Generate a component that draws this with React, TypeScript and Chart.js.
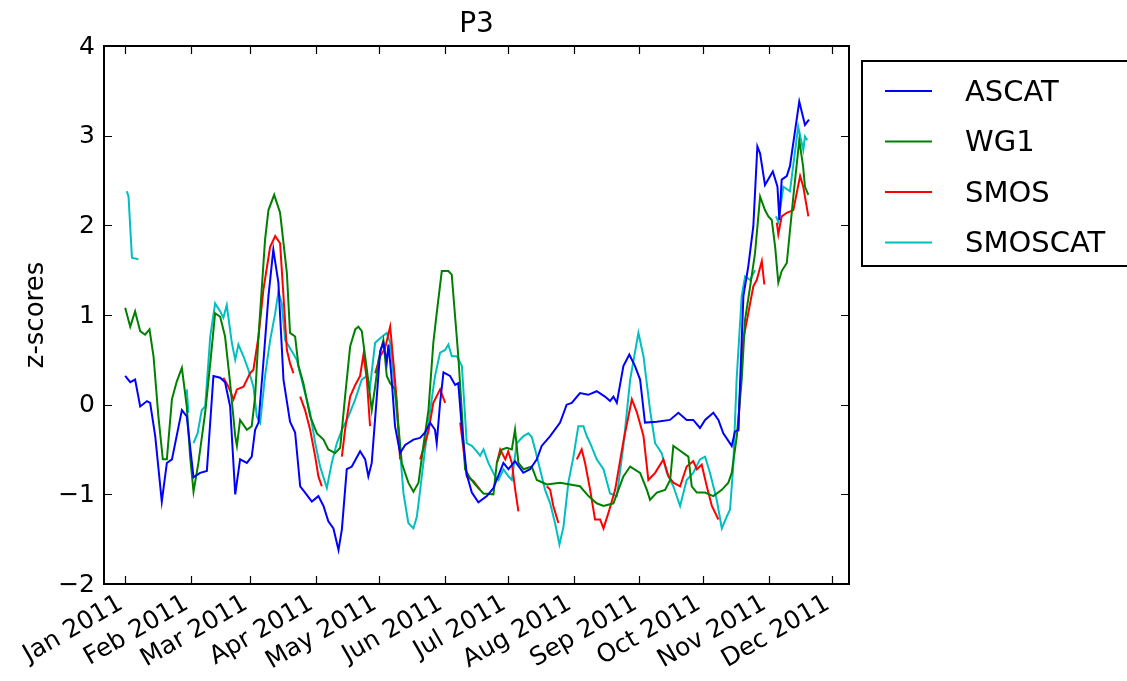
import React, { useEffect, useRef } from "react";
import { Chart, registerables } from "chart.js";

Chart.register(...registerables);

// x values are days since 1 Jan 2011
const monthTickDays = [0, 31, 59, 90, 120, 151, 181, 212, 243, 273, 304, 334];
const monthTickLabels = [
  "Jan 2011", "Feb 2011", "Mar 2011", "Apr 2011", "May 2011", "Jun 2011",
  "Jul 2011", "Aug 2011", "Sep 2011", "Oct 2011", "Nov 2011", "Dec 2011",
];
const yTickValues = [-2, -1, 0, 1, 2, 3, 4];
const yTickLabels = ["\u22122", "\u22121", "0", "1", "2", "3", "4"];

const seriesNames = ["ASCAT", "WG1", "SMOS", "SMOSCAT"];
const seriesColors = ["#0000ff", "#008000", "#ff0000", "#00bfbf"];

const ascat: [number, number | null][] = [
  [0, 0.32], [2.4, 0.25], [4.7, 0.28], [7.1, -0.02], [10.3, 0.04], [11.8, 0.02], [14.2, -0.35],
  [17.3, -1.08], [19.7, -0.65], [22.1, -0.61], [26.8, -0.06], [29.1, -0.13], [32.3, -0.81],
  [35.4, -0.76], [38.6, -0.74], [41.7, 0.32], [44.9, 0.3], [47.2, 0.25], [49.6, -0.02],
  [52, -1.0], [54.3, -0.61], [57.5, -0.65], [59.8, -0.58], [61.4, -0.28], [63, -0.2],
  [65.3, 0.47], [67.7, 1.21], [70, 1.73], [72.4, 1.36], [74.8, 0.28], [77.9, -0.19],
  [80.3, -0.31], [82.7, -0.91], [85, -0.98], [88.2, -1.08], [91.3, -1.02], [93.7, -1.13],
  [96, -1.3], [98.4, -1.38], [100.8, -1.62], [102.4, -1.39], [104.7, -0.72], [107.1, -0.69],
  [111, -0.52], [113.4, -0.61], [114.9, -0.8], [116.5, -0.65], [118.9, 0.09], [120.5, 0.6],
  [122, 0.69], [123.6, 0.47], [124.4, 0.67], [125.7, 0.35], [127.5, -0.24], [129.9, -0.54],
  [132.3, -0.45], [136.2, -0.39], [139.3, -0.37], [141.7, -0.31], [144.1, -0.2], [146.4, -0.28],
  [147.2, -0.43], [148.8, 0.02], [150.4, 0.36], [153.5, 0.32], [155.9, 0.22], [157.4, 0.24],
  [159, -0.24], [161.4, -0.78], [163.8, -0.98], [166.9, -1.09], [170.9, -1.02], [174, -0.93],
  [178.7, -0.65], [181.1, -0.72], [184.2, -0.63], [188.1, -0.76], [191.3, -0.72], [194.5, -0.61],
  [196.8, -0.46], [200.8, -0.35], [205.5, -0.2], [208.6, 0.0], [211, 0.02], [214.9, 0.13],
  [218.8, 0.11], [222.8, 0.15], [226.7, 0.09], [229.1, 0.04], [230.7, 0.09], [232.3, 0.02],
  [235.4, 0.43], [238.2, 0.56], [240.9, 0.43], [243.3, 0.28], [245.6, -0.2], [251.2, -0.19],
  [257.4, -0.17], [261.4, -0.09], [265.3, -0.17], [268.4, -0.17], [271.6, -0.26], [274, -0.17],
  [277.9, -0.09], [280.3, -0.17], [282.6, -0.32], [286.6, -0.46], [288.1, -0.3], [289.7, -0.28],
  [292.1, 1.21], [294.4, 1.54], [296.8, 1.99], [298.7, 2.88], [300, 2.8], [302.3, 2.45],
  [306, 2.6], [308.2, 2.43], [309.1, 2.06], [310.2, 2.51], [312.6, 2.55], [314.1, 2.66],
  [318.5, 3.38], [321.2, 3.12], [323.1, 3.18],
];

const wg1: [number, number | null][] = [
  [0, 1.08], [2.4, 0.87], [4.7, 1.04], [7.1, 0.82], [9.4, 0.78], [11.5, 0.84], [13.4, 0.54],
  [15.7, -0.13], [17.8, -0.61], [19.7, -0.61], [22.1, 0.06], [24.4, 0.26], [26.8, 0.41],
  [29.1, -0.02], [30.7, -0.58], [32.3, -0.97], [34.6, -0.65], [37.8, -0.09], [40.2, 0.46],
  [42.5, 1.02], [44.9, 0.98], [47.2, 0.76], [49.6, 0.24], [52, -0.35], [52.8, -0.46],
  [54.3, -0.17], [57.5, -0.28], [59.8, -0.24], [61.4, 0.09], [63, 0.76], [66.1, 1.84],
  [67.7, 2.17], [70.4, 2.34], [73.2, 2.14], [76.4, 1.47], [77.9, 0.8], [80.3, 0.76],
  [81.9, 0.43], [84.2, 0.24], [87.4, -0.13], [90.6, -0.32], [93.7, -0.39], [96, -0.5],
  [99.2, -0.54], [101.6, -0.48], [103.9, 0.09], [106.3, 0.65], [108.7, 0.84], [110.2, 0.87],
  [111.8, 0.82], [114.2, 0.39], [116.5, -0.06], [118.1, 0.2], [119.7, 0.5], [122, 0.72],
  [123.6, 0.32], [125.2, 0.24], [127.5, 0.17], [129.1, -0.24], [130.7, -0.65], [133.8, -0.87],
  [136.2, -0.97], [138.6, -0.87], [140.9, -0.46], [143.3, -0.06], [145.6, 0.69], [147.2, 1.02],
  [149.6, 1.49], [152.7, 1.49], [154.3, 1.45], [155.9, 0.98], [157.4, 0.54], [159.1, -0.09],
  [160.6, -0.72], [163, -0.82], [165.3, -0.89], [169.3, -0.99], [174, -1.0], [175.6, -0.65],
  [178, -0.5], [180.3, -0.48], [182.7, -0.5], [184.2, -0.28], [185.8, -0.65], [188.2, -0.72],
  [192.1, -0.69], [194.5, -0.84], [199.2, -0.89], [205.5, -0.87], [210.2, -0.89], [214.9, -0.91],
  [218.9, -1.02], [222.8, -1.1], [226, -1.13], [230.7, -1.1], [235.4, -0.8], [238.6, -0.69],
  [243.3, -0.76], [246.5, -0.95], [248, -1.06], [251.2, -0.98], [255.1, -0.95], [257.5, -0.84],
  [259, -0.46], [261.4, -0.5], [266.1, -0.58], [267.7, -0.91], [270.1, -0.98], [274, -0.98],
  [277.9, -1.02], [281.9, -0.95], [285, -0.87], [286.6, -0.76], [289, -0.35], [291.3, 0.28],
  [292.9, 0.95], [295.3, 1.32], [297.6, 1.69], [300, 2.32], [302.3, 2.17], [303.9, 2.1],
  [305.5, 2.06], [307.1, 1.76], [308.6, 1.36], [310.2, 1.49], [312.6, 1.58], [315.7, 2.32],
  [318.5, 2.95], [320.3, 2.66], [321.2, 2.43], [322.8, 2.34],
];

const smos: [number, number | null][] = [
  [46.4, 0.3], [48.8, 0.2], [51.2, 0.06], [52.8, 0.17], [55.9, 0.2], [59, 0.35], [60.6, 0.39],
  [63, 0.76], [65.3, 1.28], [68.5, 1.76], [70.9, 1.88], [73.2, 1.8], [74.8, 1.21], [76.4, 0.61],
  [77.9, 0.46], [79.5, 0.35], [81, null],
  [82.7, 0.09], [85, -0.06], [87.4, -0.28], [89.8, -0.58], [91.3, -0.8], [92.9, -0.91], [95, null],
  [102.4, -0.58], [103.9, -0.28], [106.3, 0.09], [108.7, 0.22], [111, 0.32], [112.6, 0.56],
  [114.2, 0.28], [115.7, -0.24], [117, null],
  [118.1, 0.35], [120.5, 0.54], [122.8, 0.63], [125.2, 0.87], [126.8, 0.46], [128.4, 0.02],
  [129.9, -0.61], [132, null],
  [139.4, -0.61], [143.3, -0.3], [145.6, 0.02], [148.8, 0.17], [151.2, 0.02], [154, null],
  [158.3, -0.2], [161.4, -0.8], [164.5, -0.85], [167.7, -0.95], [170, null],
  [175.6, -0.65], [177.2, -0.5], [179.6, -0.61], [181, -0.52], [182.7, -0.65], [184.3, -0.95],
  [185.8, -1.19], [190, null],
  [199.2, -0.91], [200.8, -0.95], [202.3, -1.13], [204.7, -1.32], [207, null],
  [213.4, -0.61], [215.7, -0.5], [217.3, -0.65], [219.7, -0.95], [222, -1.28], [224.4, -1.28],
  [226, -1.38], [228.3, -1.21], [231.5, -0.95], [235.4, -0.41], [239.4, 0.06], [241.7, -0.08],
  [244.9, -0.35], [247.2, -0.84], [250.4, -0.76], [254.3, -0.61], [256.7, -0.8], [259, -0.87],
  [262.2, -0.91], [265.3, -0.69], [268.4, -0.63], [270.1, -0.72], [272.4, -0.67], [274.8, -0.91],
  [277.2, -1.13], [280.3, -1.28], [284, null],
  [289.7, -0.3], [290.4, 0.09], [292, 0.72], [294.4, 1.02], [296.8, 1.32], [298.4, 1.39],
  [300.8, 1.6], [302, 1.34], [305, null],
  [307.9, 2.03], [308.6, 1.9], [310.2, 2.1], [312.6, 2.14], [315.7, 2.17], [318.9, 2.55],
  [320.4, 2.43], [322.8, 2.1],
];

const smoscat: [number, number | null][] = [
  [0.8, 2.38], [1.6, 2.32], [3.2, 1.64], [6.3, 1.62], [10, null],
  [29.1, 0.17], [29.9, -0.09], [31, null],
  [32.3, -0.43], [34.2, -0.32], [36.2, -0.06], [37.8, -0.02], [40.2, 0.76], [42.5, 1.13],
  [44.9, 1.04], [46.4, 0.97], [48, 1.11], [50.4, 0.69], [52, 0.5], [53.5, 0.67], [55.9, 0.54],
  [58.2, 0.39], [60.6, 0.2], [62.2, -0.13], [63.8, -0.2], [66.1, 0.32], [68.5, 0.72],
  [70.9, 1.02], [72.4, 1.26], [74, 1.13], [75.6, 0.72], [77.9, 0.63], [81.1, 0.5], [84.2, 0.2],
  [87.4, -0.09], [89.8, -0.43], [92.1, -0.69], [95.3, -0.93], [97.6, -0.65], [100, -0.43],
  [102.4, -0.28], [105.5, -0.13], [108.7, 0.06], [111.8, 0.28], [114.2, 0.32], [115.7, 0.2],
  [118.1, 0.69], [120.5, 0.74], [123.6, 0.8], [125.2, 0.69], [126.8, 0.32], [129.1, -0.28],
  [131.5, -0.99], [133.8, -1.32], [136.2, -1.38], [137.8, -1.25], [139.4, -0.95], [140.9, -0.65],
  [143.3, -0.2], [146.4, 0.32], [148.8, 0.58], [151.2, 0.61], [152.7, 0.67], [154.3, 0.54],
  [156.7, 0.54], [159.1, 0.43], [161.4, -0.43], [163.8, -0.46], [166.1, -0.52], [167.7, -0.57],
  [169.3, -0.5], [171.6, -0.65], [174.8, -0.8], [176.4, -0.84], [178.7, -0.72], [181.1, -0.8],
  [182.7, -0.84], [185, -0.43], [188.2, -0.35], [190.5, -0.32], [192.1, -0.36], [193.7, -0.5],
  [196, -0.72], [198.4, -0.95], [200.8, -1.1], [203.1, -1.32], [205.2, -1.56], [207.1, -1.36],
  [209.4, -0.87], [211.8, -0.58], [214.1, -0.24], [216.5, -0.24], [218.1, -0.35], [219.7, -0.43],
  [222.8, -0.61], [226, -0.72], [229.1, -0.99], [232.3, -1.02], [235.4, -0.46], [238.6, 0.28],
  [242.5, 0.8], [244.9, 0.54], [248, -0.06], [250.4, -0.43], [253.5, -0.54], [255.9, -0.76],
  [259, -0.91], [262.2, -1.13], [265.3, -0.84], [268.4, -0.76], [271.6, -0.61], [274, -0.58],
  [276.3, -0.76], [279.5, -1.06], [281.9, -1.38], [284.2, -1.25], [285.8, -1.17], [287.3, -0.69],
  [288.9, 0.28], [291.3, 1.21], [292.9, 1.43], [295.3, 1.39], [297.6, 1.5], [302, null],
  [307.5, 2.1], [308.6, 2.04], [311, 2.43], [314.1, 2.38], [318, 3.1], [320.4, 2.84],
  [321.2, 2.99], [322.3, 2.95],
];

const seriesData = [ascat, wg1, smos, smoscat];

const FONT = '"DejaVu Sans", "Liberation Sans", sans-serif';

const decorPlugin = {
  id: "mplDecor",
  afterDraw(chart: any) {
    const ctx = chart.ctx as CanvasRenderingContext2D;
    const area = chart.chartArea;
    const xs = chart.scales.x;
    const ys = chart.scales.y;
    ctx.save();

    // tick marks (inward, all four sides)
    ctx.strokeStyle = "#000";
    ctx.lineWidth = 1.2;
    ctx.beginPath();
    for (const d of monthTickDays) {
      const px = Math.round(xs.getPixelForValue(d)) + 0.5;
      ctx.moveTo(px, area.bottom);
      ctx.lineTo(px, area.bottom - 8);
      ctx.moveTo(px, area.top);
      ctx.lineTo(px, area.top + 8);
    }
    for (const v of yTickValues) {
      const py = Math.round(ys.getPixelForValue(v)) + 0.5;
      ctx.moveTo(area.left, py);
      ctx.lineTo(area.left + 8, py);
      ctx.moveTo(area.right, py);
      ctx.lineTo(area.right - 8, py);
    }
    ctx.stroke();

    // frame
    ctx.lineWidth = 2;
    ctx.strokeRect(area.left, area.top, area.right - area.left, area.bottom - area.top);

    // y tick labels
    ctx.fillStyle = "#000";
    ctx.font = `25px ${FONT}`;
    ctx.textAlign = "right";
    ctx.textBaseline = "middle";
    yTickValues.forEach((v, i) => {
      ctx.fillText(yTickLabels[i], area.left - 9, ys.getPixelForValue(v) + 1);
    });

    // x tick labels rotated 30 degrees, right end at tick
    const ang = (30 * Math.PI) / 180;
    monthTickDays.forEach((d, i) => {
      const px = xs.getPixelForValue(d);
      ctx.save();
      ctx.translate(px + 2, area.bottom + 7 + 25 * Math.cos(ang));
      ctx.rotate(-ang);
      ctx.textAlign = "right";
      ctx.textBaseline = "bottom";
      ctx.fillText(monthTickLabels[i], 0, 0);
      ctx.restore();
    });

    // title
    ctx.font = `28px ${FONT}`;
    ctx.textAlign = "center";
    ctx.textBaseline = "middle";
    ctx.fillText("P3", (area.left + area.right) / 2, 25);

    // y axis label
    ctx.save();
    ctx.font = `26px ${FONT}`;
    ctx.translate(36, (area.top + area.bottom) / 2);
    ctx.rotate(-Math.PI / 2);
    ctx.textAlign = "center";
    ctx.textBaseline = "middle";
    ctx.fillText("z-scores", 0, 0);
    ctx.restore();

    // legend
    const lx = 862, ly = 61, lw = 300, lh = 205;
    ctx.fillStyle = "#fff";
    ctx.fillRect(lx, ly, lw, lh);
    ctx.strokeStyle = "#000";
    ctx.lineWidth = 2;
    ctx.strokeRect(lx, ly, lw, lh);
    ctx.font = `29px ${FONT}`;
    ctx.textAlign = "left";
    ctx.textBaseline = "middle";
    seriesNames.forEach((name, i) => {
      const yy = 91 + i * 50.5;
      ctx.strokeStyle = seriesColors[i];
      ctx.lineWidth = 2;
      ctx.beginPath();
      ctx.moveTo(885, yy);
      ctx.lineTo(932, yy);
      ctx.stroke();
      ctx.fillStyle = "#000";
      ctx.fillText(name, 965, yy + 2);
    });

    ctx.restore();
  },
};

export default function App() {
  const canvasRef = useRef<HTMLCanvasElement | null>(null);

  useEffect(() => {
    document.body.style.margin = "0";
    const canvas = canvasRef.current;
    if (!canvas) return;
    const chart = new Chart(canvas, {
      type: "line",
      data: {
        datasets: seriesData.map((s, i) => ({
          label: seriesNames[i],
          data: s.map(([x, y]) => ({ x, y })),
          borderColor: seriesColors[i],
          backgroundColor: seriesColors[i],
          borderWidth: 2,
          pointRadius: 0,
          pointHoverRadius: 0,
          tension: 0,
          spanGaps: false,
          fill: false,
        })),
      },
      options: {
        animation: false,
        responsive: false,
        devicePixelRatio: 1,
        events: [],
        layout: { padding: { left: 104, right: 278, top: 46, bottom: 97 } },
        plugins: {
          legend: { display: false },
          title: { display: false },
          tooltip: { enabled: false },
        },
        scales: {
          x: { type: "linear", min: -10, max: 342, display: false },
          y: { type: "linear", min: -2, max: 4, display: false },
        },
      },
      plugins: [decorPlugin],
    });
    return () => chart.destroy();
  }, []);

  return (
    <div style={{ position: "absolute", left: 0, top: 0, width: 1127, height: 681, background: "#fff" }}>
      <canvas ref={canvasRef} width={1127} height={681} />
    </div>
  );
}
